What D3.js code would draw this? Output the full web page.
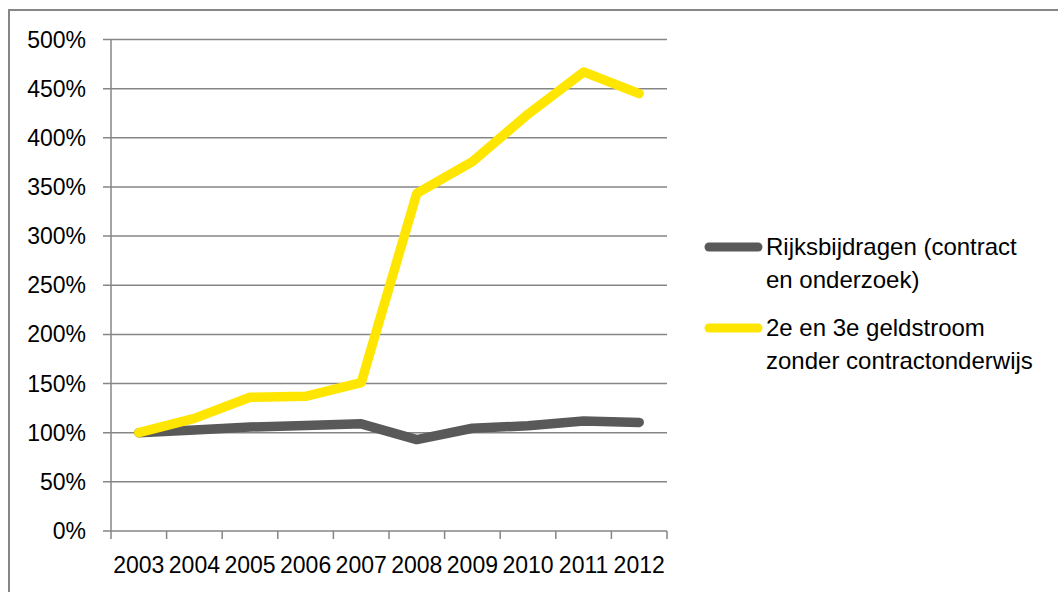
<!DOCTYPE html>
<html>
<head>
<meta charset="utf-8">
<script src="https://cdn.jsdelivr.net/npm/d3@7"></script>
<style>
  body { margin: 0; background: #fff; }
  text { font-family: "Liberation Sans", Arial, sans-serif; fill: #000; }
</style>
</head>
<body>
<div id="chart"></div>
<script>
const years = ["2003", "2004", "2005", "2006", "2007", "2008", "2009", "2010", "2011", "2012"];
const rijks = [100, 102.7, 105.8, 107.3, 109, 93, 104.5, 107, 112, 110.5];
const geldstroom = [100, 114.6, 136, 137, 151, 343.5, 375.7, 424, 467, 445];
const yTicks = [0, 50, 100, 150, 200, 250, 300, 350, 400, 450, 500];
const seriesNames = [["Rijksbijdragen (contract", "en onderzoek)"], ["2e en 3e geldstroom", "zonder contractonderwijs"]];
const seriesColors = ["#595959", "#ffe600"];

const width = 1058, height = 592;
const plot = {left: 111, right: 667, top: 39.5, bottom: 531};

const svg = d3.select("#chart").append("svg")
    .attr("width", width)
    .attr("height", height);

// outer frame (bottom and right fall off the picture)
svg.append("rect")
    .attr("x", 9).attr("y", 10)
    .attr("width", 1060).attr("height", 600)
    .attr("fill", "none")
    .attr("stroke", "#868686")
    .attr("stroke-width", 2);

const x = d3.scaleBand().domain(years).range([plot.left, plot.right]);
const y = d3.scaleLinear().domain([0, 500]).range([plot.bottom, plot.top]);

// gridlines + left tick marks
svg.append("g").selectAll("line")
    .data(yTicks)
    .enter().append("line")
    .attr("x1", plot.left - 8).attr("x2", plot.right)
    .attr("y1", d => y(d)).attr("y2", d => y(d))
    .attr("stroke", "#868686")
    .attr("stroke-width", 1.5);

svg.append("g").selectAll("text")
    .data(yTicks)
    .enter().append("text")
    .attr("x", 86)
    .attr("y", d => y(d))
    .attr("dy", "0.35em")
    .attr("text-anchor", "end")
    .style("font-size", "23px")
    .text(d => d + "%");

// y axis line
svg.append("line")
    .attr("x1", plot.left).attr("x2", plot.left)
    .attr("y1", plot.top).attr("y2", plot.bottom)
    .attr("stroke", "#868686").attr("stroke-width", 1.5);

// x ticks sit on band edges
const edges = years.map(d => x(d)).concat([plot.right]);
svg.append("g").selectAll("line")
    .data(edges)
    .enter().append("line")
    .attr("x1", d => d).attr("x2", d => d)
    .attr("y1", plot.bottom).attr("y2", plot.bottom + 8)
    .attr("stroke", "#868686").attr("stroke-width", 1.5);

const xAxis = svg.append("g")
    .attr("transform", `translate(0,${plot.bottom})`)
    .call(d3.axisBottom(x).tickSize(0).tickPadding(0));
xAxis.select(".domain").remove();
xAxis.selectAll("text")
    .attr("dy", null)
    .attr("y", 42)
    .style("font-size", "23px")
    .style("font-family", "Liberation Sans, Arial, sans-serif")
    .attr("fill", "#000");

const line = d3.line()
    .x((d, i) => x(years[i]) + x.bandwidth() / 2)
    .y(d => y(d));

[rijks, geldstroom].forEach((s, i) => {
    svg.append("path")
        .datum(s)
        .attr("d", line)
        .attr("fill", "none")
        .attr("stroke", seriesColors[i])
        .attr("stroke-width", 9.5)
        .attr("stroke-linejoin", "round")
        .attr("stroke-linecap", "round");
});

// legend
const legendY = [247, 328];
seriesNames.forEach((lines, i) => {
    const g = svg.append("g");
    g.append("line")
        .attr("x1", 709).attr("x2", 758)
        .attr("y1", legendY[i]).attr("y2", legendY[i])
        .attr("stroke", seriesColors[i])
        .attr("stroke-width", 9)
        .attr("stroke-linecap", "round");
    lines.forEach((t, j) => {
        g.append("text")
            .attr("x", 766)
            .attr("y", legendY[i] + 8 + j * 33)
            .style("font-size", "24px")
            .text(t);
    });
});
</script>
</body>
</html>
